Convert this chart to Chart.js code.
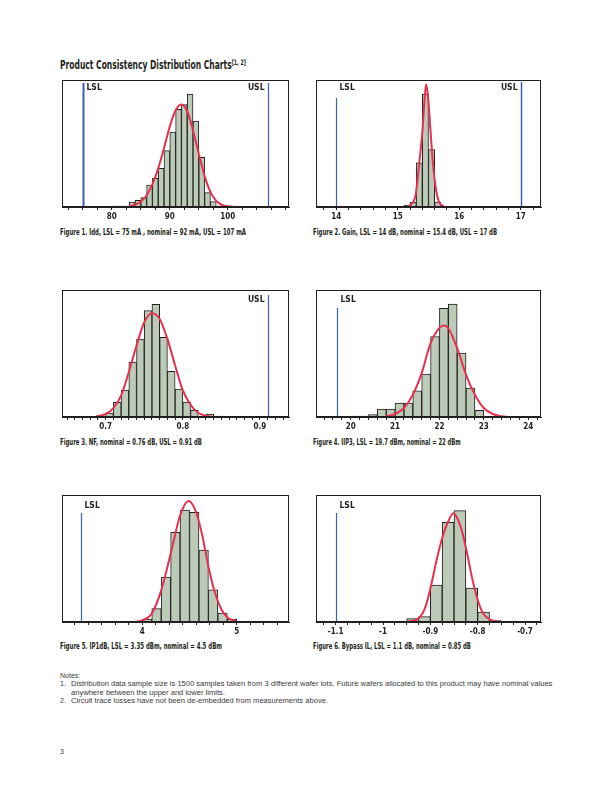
<!DOCTYPE html>
<html>
<head>
<meta charset="utf-8">
<script src="https://cdn.jsdelivr.net/npm/chart.js@4.4.1/dist/chart.umd.min.js"></script>
<style>
  body { margin: 0; width: 612px; height: 792px; position: relative; background: #fff; overflow: hidden;
         font-family: 'Liberation Sans Narrow', 'Arial Narrow', 'DejaVu Sans Condensed', sans-serif; color: #231f20; }
  .t { position: absolute; white-space: nowrap; transform-origin: 0 50%; }
  .title { font-size: 12px; line-height: 12px; font-weight: bold; }
  .title sup { font-size: 7.5px; vertical-align: 4px; line-height: 0; }
  .cap { font-size: 8.5px; line-height: 10px; font-weight: bold; }
  .note { font-family: 'Liberation Sans', sans-serif; font-size: 7px; line-height: 8px; color: #3a3a3a; }
  canvas { position: absolute; }
</style>
</head>
<body>

<div class="t title" style="left:60px;top:59px" data-w="186">Product Consistency Distribution Charts<sup>[1, 2]</sup></div>

<div class="t cap" style="left:60px;top:227px" data-w="186">Figure 1. Idd, LSL = 75 mA , nominal = 92 mA, USL = 107 mA</div>
<div class="t cap" style="left:313px;top:227px" data-w="184">Figure 2. Gain, LSL = 14 dB, nominal = 15.4 dB, USL = 17 dB</div>
<div class="t cap" style="left:60px;top:437px" data-w="142">Figure 3. NF, nominal = 0.76 dB, USL = 0.91 dB</div>
<div class="t cap" style="left:313px;top:437px" data-w="148">Figure 4. IIP3, LSL = 19.7 dBm, nominal = 22 dBm</div>
<div class="t cap" style="left:60px;top:641px" data-w="162">Figure 5. IP1dB, LSL = 3.35 dBm, nominal = 4.5 dBm</div>
<div class="t cap" style="left:313px;top:641px" data-w="158">Figure 6. Bypass IL, LSL = 1.1 dB, nominal = 0.85 dB</div>

<div class="t note" style="left:60px;top:672px">Notes:</div>
<div class="t note" style="left:60px;top:680px">1.</div>
<div class="t note" id="note1" style="left:71px;top:680px" data-w="481">Distribution data sample size is 1500 samples taken from 3 different wafer lots. Future wafers allocated to this product may have nominal values</div>
<div class="t note nscale" style="left:71px;top:689px">anywhere between the upper and lower limits.</div>
<div class="t note" style="left:60px;top:697px">2.</div>
<div class="t note nscale" style="left:71px;top:697px">Circuit trace losses have not been de-embedded from measurements above.</div>
<div class="t note" style="left:60px;top:748px">3</div>

<script>
const FONT = "'Liberation Sans Narrow', 'Arial Narrow', 'DejaVu Sans Condensed', sans-serif";
const INK = '#231f20';
const BAR_FILL = '#bccbb8';
const FIT_RED = '#e8304f';
const LIMIT_BLUE = '#3b5fb4';
const AXIS_H = 22;

// Figure 1. Idd (mA), bins of 1 mA
const iddBinStart = [80, 81, 82, 83, 84, 85, 86, 87, 88, 89, 90, 91, 92, 93, 94, 95, 96, 97, 98];
const iddCounts = [3, 3, 3, 15, 20, 28, 65, 85, 115, 168, 223, 291, 305, 336, 256, 148, 43, 16, 3];
const iddFitX = [83, 84, 85, 86, 87, 88, 89, 90, 91, 92, 93, 94, 95, 96, 97, 98, 99, 101];
const iddFitY = [2, 7, 16, 35, 68, 115, 175, 240, 288, 305, 285, 228, 158, 92, 45, 18, 6, 0];
const iddTickLabels = [80, 90, 100];
const iddLimits = [75, 107];
const iddLimitNames = ['LSL', 'USL'];

// Figure 2. Gain (dB), bins of 0.1 dB
const gainBinStart = [15.0, 15.1, 15.2, 15.3, 15.4, 15.5, 15.6, 15.7];
const gainCounts = [2, 5, 15, 132, 338, 172, 15, 2];
const gainFitX = [15.18, 15.23, 15.29, 15.34, 15.40, 15.43, 15.46, 15.49, 15.53, 15.57, 15.62, 15.67, 15.75];
const gainFitY = [3, 10, 35, 115, 225, 305, 367, 335, 235, 135, 55, 15, 2];
const gainTickLabels = [14, 15, 16, 17];
const gainLimits = [14, 17];
const gainLimitNames = ['LSL', 'USL'];

// Figure 3. NF (dB), bins of 0.01 dB
const nfBinStart = [0.70, 0.71, 0.72, 0.73, 0.74, 0.75, 0.76, 0.77, 0.78, 0.79, 0.80, 0.81, 0.82, 0.83, 0.84];
const nfCounts = [12, 44, 81, 165, 234, 320, 339, 240, 137, 84, 45, 20, 3, 9, 3];
const nfFitX = [0.688, 0.70, 0.71, 0.72, 0.73, 0.74, 0.75, 0.76, 0.77, 0.78, 0.79, 0.80, 0.81, 0.82, 0.83, 0.838];
const nfFitY = [2, 9, 27, 64, 135, 215, 285, 312, 295, 235, 155, 80, 37, 12, 4, 0];
const nfTickLabels = [0.7, 0.8, 0.9];
const nfLimits = [0.91];
const nfLimitNames = ['USL'];

// Figure 4. IIP3 (dBm), bins of 0.2 dBm
const iip3BinStart = [20.0, 20.2, 20.4, 20.6, 20.8, 21.0, 21.2, 21.4, 21.6, 21.8, 22.0, 22.2, 22.4, 22.6, 22.8, 23.0];
const iip3Counts = [3, 3, 7, 24, 24, 42, 42, 79, 129, 242, 327, 340, 192, 87, 20, 2];
const iip3FitX = [20.8, 21.0, 21.2, 21.4, 21.6, 21.8, 22.0, 22.1, 22.2, 22.4, 22.6, 22.8, 23.0, 23.2, 23.4, 23.55];
const iip3FitY = [2, 9, 27, 67, 132, 222, 268, 275, 267, 207, 127, 67, 27, 9, 2, 0];
const iip3TickLabels = [20, 21, 22, 23, 24];
const iip3Limits = [19.7];
const iip3LimitNames = ['LSL'];

// Figure 5. IP1dB (dBm), bins of 0.1 dBm
const ip1BinStart = [4.0, 4.1, 4.2, 4.3, 4.4, 4.5, 4.6, 4.7, 4.8, 4.9, 5.0, 5.1];
const ip1Counts = [9, 40, 135, 270, 337, 330, 216, 97, 27, 9, 0, 3];
const ip1FitX = [3.92, 4.0, 4.1, 4.2, 4.3, 4.4, 4.49, 4.56, 4.63, 4.7, 4.77, 4.84, 4.91, 5.0];
const ip1FitY = [0, 5, 25, 95, 205, 320, 364, 337, 267, 167, 87, 37, 12, 2];
const ip1TickLabels = [4, 5];
const ip1Limits = [3.35];
const ip1LimitNames = ['LSL'];

// Figure 6. Bypass IL (dB), bins of 0.025 dB
const bypBinStart = [-1.0, -0.975, -0.95, -0.925, -0.9, -0.875, -0.85, -0.825, -0.8, -0.775];
const bypCounts = [1, 3, 10, 16, 111, 300, 335, 102, 30, 4];
const bypFitX = [-0.949, -0.924, -0.910, -0.899, -0.885, -0.874, -0.864, -0.851, -0.843, -0.832, -0.821, -0.811, -0.800, -0.789, -0.779, -0.768, -0.752];
const bypFitY = [0, 12, 47, 107, 197, 257, 297, 327, 312, 267, 197, 127, 67, 27, 12, 4, 0];
const bypTickLabels = [-1.1, -1, -0.9, -0.8, -0.7];
const bypLimits = [-1.1];
const bypLimitNames = ['LSL'];

function range(a, b, step) {
    const out = [];
    for (let i = 0; a + i * step <= b + 1e-9; i++) out.push(+(a + i * step).toFixed(6));
    return out;
}

// frame round the plot area
const framePlugin = {
    id: 'frame',
    afterDraw(chart) {
        const { ctx, chartArea: a } = chart;
        ctx.save();
        ctx.strokeStyle = INK;
        ctx.lineWidth = 1;
        ctx.strokeRect(Math.round(a.left) + 0.5, Math.round(a.top) + 0.5,
            Math.round(a.right - a.left) - 1, Math.round(a.bottom - a.top) - 1);
        ctx.restore();
    }
};

// LSL / USL marker lines
const limitPlugin = {
    id: 'limits',
    afterDatasetsDraw(chart, args, opts) {
        const { ctx, chartArea: a, scales: { x } } = chart;
        opts.values.forEach((v, i) => {
            const st = opts.styles[i];
            const px = Math.round(x.getPixelForValue(v)) + 0.5;
            ctx.save();
            ctx.strokeStyle = LIMIT_BLUE;
            ctx.lineWidth = st.width;
            ctx.beginPath();
            ctx.moveTo(px, a.top + st.gap);
            ctx.lineTo(px, a.bottom);
            ctx.stroke();
            ctx.fillStyle = INK;
            ctx.font = 'bold 8.5px ' + FONT;
            ctx.textBaseline = 'middle';
            ctx.textAlign = st.side === 'left' ? 'right' : 'left';
            ctx.fillText(opts.names[i], st.side === 'left' ? px - 4 : px + 3, a.top + st.ty);
            ctx.restore();
        });
    }
};

function drawHistogram(s) {
    const [l, t, r, b] = s.box;
    const c = document.createElement('canvas');
    c.width = r - l + 4;
    c.height = b - t + 2 + AXIS_H;
    c.style.left = (l - 2) + 'px';
    c.style.top = (t - 2) + 'px';
    document.body.appendChild(c);

    const tickVals = [...new Set([...s.minor, ...s.labels.map(v => +v.toFixed(6))])]
        .filter(v => v >= s.xMin && v <= s.xMax)
        .sort((p, q) => p - q);

    new Chart(c, {
        type: 'bar',
        data: {
            datasets: [
                {
                    type: 'line',
                    data: s.fitX.map((x, i) => ({ x, y: s.fitY[i] })),
                    borderColor: FIT_RED,
                    borderWidth: 2,
                    pointRadius: 0,
                    cubicInterpolationMode: 'monotone',
                    fill: false,
                    order: 0
                },
                {
                    type: 'bar',
                    data: s.bins.map((v, i) => ({ x: +(v + s.binWidth / 2).toFixed(6), y: s.counts[i] })),
                    backgroundColor: BAR_FILL,
                    borderColor: INK,
                    borderWidth: 1,
                    barPercentage: 1,
                    categoryPercentage: 1,
                    order: 1
                }
            ]
        },
        options: {
            responsive: false,
            animation: false,
            layout: { padding: { left: 2, right: 2, top: 2, bottom: 0 } },
            plugins: {
                legend: { display: false },
                tooltip: { enabled: false },
                limits: { values: s.limits, names: s.limitNames, styles: s.limitStyles }
            },
            scales: {
                x: {
                    type: 'linear',
                    min: s.xMin,
                    max: s.xMax,
                    offset: false,
                    afterBuildTicks: sc => { sc.ticks = tickVals.map(v => ({ value: v })); },
                    afterFit: sc => { sc.height = AXIS_H; },
                    grid: { offset: false, drawOnChartArea: false, drawTicks: true, tickLength: 3, color: INK, lineWidth: 1 },
                    border: { display: true, color: INK, width: 1 },
                    ticks: {
                        autoSkip: false,
                        maxRotation: 0,
                        padding: 2,
                        color: INK,
                        font: { family: FONT, size: 8, weight: 'bold' },
                        callback: v => {
                            const hit = s.labels.find(m => Math.abs(m - v) < 1e-6);
                            return hit === undefined ? '' : String(hit);
                        }
                    }
                },
                y: { display: false, min: 0, max: s.yMax }
            }
        },
        plugins: [framePlugin, limitPlugin]
    });
}

drawHistogram({
    box: [62, 80, 289, 207], xMin: 71.41, xMax: 110.55, yMax: 378,
    bins: iddBinStart, binWidth: 1, counts: iddCounts, fitX: iddFitX, fitY: iddFitY,
    labels: iddTickLabels, minor: range(72.5, 110, 2.5),
    limits: iddLimits, limitNames: iddLimitNames,
    limitStyles: [{ side: 'right', gap: 3, ty: 8, width: 2 }, { side: 'left', gap: 3, ty: 8, width: 1.2 }]
});
drawHistogram({
    box: [316, 80, 541, 207], xMin: 13.67, xMax: 17.33, yMax: 380,
    bins: gainBinStart, binWidth: 0.1, counts: gainCounts, fitX: gainFitX, fitY: gainFitY,
    labels: gainTickLabels, minor: range(13.8, 17.2, 0.2),
    limits: gainLimits, limitNames: gainLimitNames,
    limitStyles: [{ side: 'right', gap: 18, ty: 8, width: 1.2 }, { side: 'left', gap: 2, ty: 8, width: 1.5 }]
});
drawHistogram({
    box: [62, 290, 289, 417], xMin: 0.6434, xMax: 0.9376, yMax: 382,
    bins: nfBinStart, binWidth: 0.01, counts: nfCounts, fitX: nfFitX, fitY: nfFitY,
    labels: nfTickLabels, minor: range(0.65, 0.93, 0.01),
    limits: nfLimits, limitNames: nfLimitNames,
    limitStyles: [{ side: 'left', gap: 5, ty: 10, width: 1.2 }]
});
drawHistogram({
    box: [316, 290, 541, 417], xMin: 19.217, xMax: 24.29, yMax: 382,
    bins: iip3BinStart, binWidth: 0.2, counts: iip3Counts, fitX: iip3FitX, fitY: iip3FitY,
    labels: iip3TickLabels, minor: range(19.4, 24.2, 0.2),
    limits: iip3Limits, limitNames: iip3LimitNames,
    limitStyles: [{ side: 'right', gap: 18, ty: 10, width: 1.2 }]
});
drawHistogram({
    box: [62, 495, 289, 622], xMin: 3.149, xMax: 5.554, yMax: 382,
    bins: ip1BinStart, binWidth: 0.1, counts: ip1Counts, fitX: ip1FitX, fitY: ip1FitY,
    labels: ip1TickLabels, minor: range(4 - 6 / 7, 5.55, 1 / 7),
    limits: ip1Limits, limitNames: ip1LimitNames,
    limitStyles: [{ side: 'right', gap: 18, ty: 11, width: 1.2 }]
});
drawHistogram({
    box: [316, 495, 541, 622], xMin: -1.1416, xMax: -0.6662, yMax: 382,
    bins: bypBinStart, binWidth: 0.025, counts: bypCounts, fitX: bypFitX, fitY: bypFitY,
    labels: bypTickLabels, minor: range(-1.125, -0.675, 0.025),
    limits: bypLimits, limitNames: bypLimitNames,
    limitStyles: [{ side: 'right', gap: 18, ty: 11, width: 1.2 }]
});

// squeeze text to the widths of the printed page
document.querySelectorAll('[data-w]').forEach(el => {
    el.style.transform = 'scaleX(' + (+el.dataset.w / el.offsetWidth) + ')';
});
const noteScale = 481 / document.getElementById('note1').offsetWidth;
document.querySelectorAll('.nscale').forEach(el => {
    el.style.transform = 'scaleX(' + noteScale + ')';
});
</script>
</body>
</html>
